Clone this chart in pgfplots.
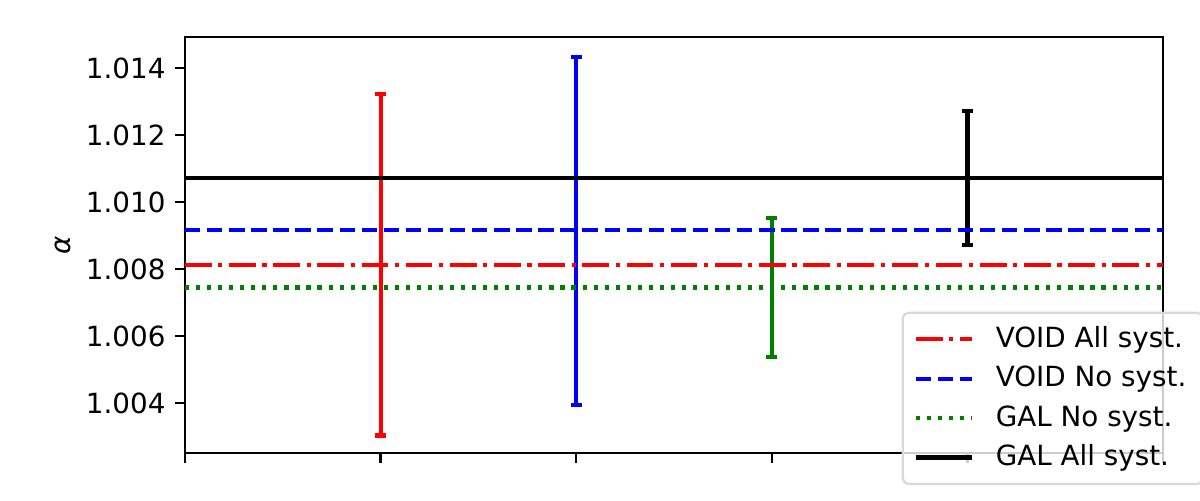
\documentclass[border=0pt]{standalone}
\usepackage{pgfplots}
\pgfplotsset{compat=1.18}
\usepackage{fontspec}
\setmainfont{DejaVu Sans}
\begin{document}
\begin{tikzpicture}
\path[use as bounding box] (-66.6pt,-16.9pt) rectangle (365.4pt,163.1pt);
\begin{axis}[
  at={(0,0)}, anchor=south west,
  scale only axis, width=352.1pt, height=149.8pt,
  xmin=0, xmax=5, ymin=1.002507, ymax=1.014925,
  xtick={0,1,2,3,4,5}, xticklabels={},
  ytick={1.004,1.006,1.008,1.010,1.012,1.014},
  yticklabel style={/pgf/number format/.cd, fixed, fixed zerofill, precision=3, assume math mode=true},
  scaled y ticks=false,
  tick align=outside, xtick pos=bottom, ytick pos=left,
  major tick length=3.5pt,
  every tick/.style={black, line width=0.8pt},
  axis line style={line width=0.8pt},
  font=\fontsize{10}{12}\selectfont,
  ylabel={\textit{α}},
  ylabel style={at={(axis description cs:-0.125,0.5)}, anchor=center},
  legend cell align=left,
  legend style={at={(1.042,-0.077)}, anchor=south east, draw=black!15, rounded corners=2pt, fill=white, fill opacity=0.8, text opacity=1, line width=0.8pt, inner xsep=4pt, inner ysep=3pt, row sep=1.2pt, font=\fontsize{10}{12}\selectfont},
  legend image code/.code={\draw[#1] (0pt,0pt) -- (20pt,0pt); \path (26pt,0pt);},
]
% error bars
\addplot[draw=none, mark=none, forget plot,
  error bars/.cd, y dir=both, y explicit,
  error bar style={draw=red, line width=1.5pt, solid},
  error mark options={rotate=90, mark size=2pt, line width=1.5pt, red, solid}]
  coordinates {(1,1.00813) +- (0,0.00510)};
\addplot[draw=none, mark=none, forget plot,
  error bars/.cd, y dir=both, y explicit,
  error bar style={draw=blue, line width=1.5pt, solid},
  error mark options={rotate=90, mark size=2pt, line width=1.5pt, blue, solid}]
  coordinates {(2,1.009135) +- (0,0.005195)};
\addplot[draw=none, mark=none, forget plot,
  error bars/.cd, y dir=both, y explicit,
  error bar style={draw=green!50!black, line width=1.5pt, solid},
  error mark options={rotate=90, mark size=2pt, line width=1.5pt, green!50!black, solid}]
  coordinates {(3,1.007445) +- (0,0.002075)};
\addplot[draw=none, mark=none, forget plot,
  error bars/.cd, y dir=both, y explicit,
  error bar style={draw=black, line width=1.5pt, solid},
  error mark options={rotate=90, mark size=2pt, line width=1.5pt, black, solid}]
  coordinates {(4,1.01072) +- (0,0.0020)};
% horizontal lines
\addplot[red, line width=1.5pt, dash pattern=on 9.6pt off 2.4pt on 1.5pt off 2.4pt] coordinates {(0,1.00813) (5,1.00813)};
\addlegendentry{VOID All syst.}
\addplot[blue, line width=1.5pt, dash pattern=on 5.55pt off 2.4pt] coordinates {(0,1.00916) (5,1.00916)};
\addlegendentry{VOID No syst.}
\addplot[green!50!black, line width=1.5pt, dash pattern=on 1.5pt off 2.475pt] coordinates {(0,1.00745) (5,1.00745)};
\addlegendentry{GAL No syst.}
\addplot[black, line width=1.5pt] coordinates {(0,1.01072) (5,1.01072)};
\addlegendentry{GAL All syst.}
\end{axis}
\end{tikzpicture}
\end{document}
